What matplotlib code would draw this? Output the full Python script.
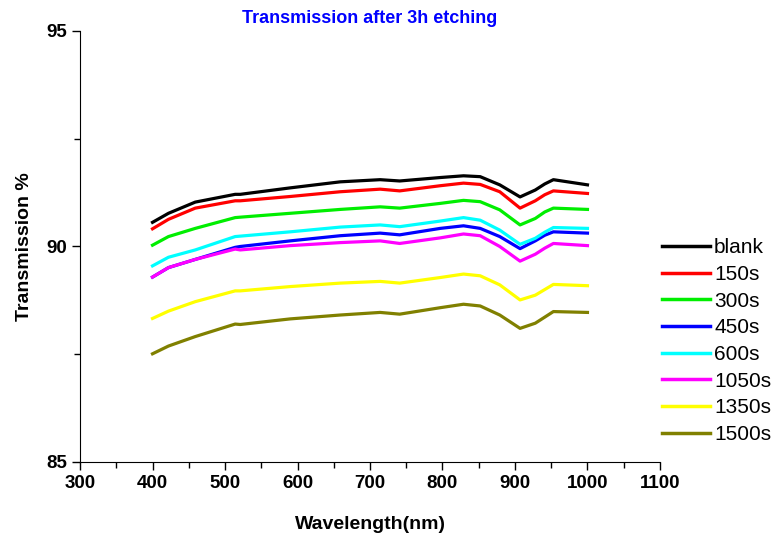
import matplotlib
matplotlib.use('Agg')
import matplotlib.pyplot as plt
from matplotlib.ticker import MultipleLocator

# wavelength (nm) and transmission (%)
wl = [400, 422, 459, 514, 521, 590, 659, 714, 741, 797, 829, 852, 879, 907, 928, 941, 953, 1000]

blank = [90.56, 90.77, 91.03, 91.21, 91.21, 91.36, 91.50, 91.55, 91.52, 91.60, 91.64, 91.62, 91.43, 91.15, 91.31, 91.45, 91.55, 91.43]
s150 = [90.41, 90.63, 90.89, 91.06, 91.06, 91.16, 91.27, 91.33, 91.29, 91.41, 91.47, 91.44, 91.27, 90.89, 91.06, 91.20, 91.29, 91.23]
s300 = [90.03, 90.23, 90.42, 90.67, 90.68, 90.77, 90.86, 90.92, 90.89, 91.00, 91.07, 91.04, 90.85, 90.50, 90.65, 90.80, 90.89, 90.86]
s450 = [89.29, 89.51, 89.70, 89.98, 90.00, 90.13, 90.25, 90.31, 90.27, 90.42, 90.48, 90.42, 90.23, 89.95, 90.13, 90.26, 90.34, 90.31]
s600 = [89.55, 89.75, 89.92, 90.23, 90.24, 90.34, 90.45, 90.50, 90.46, 90.59, 90.67, 90.61, 90.38, 90.05, 90.19, 90.33, 90.44, 90.42]
s1050 = [89.29, 89.51, 89.70, 89.94, 89.92, 90.02, 90.09, 90.13, 90.07, 90.20, 90.29, 90.25, 90.00, 89.66, 89.82, 89.96, 90.07, 90.02]
s1350 = [88.33, 88.50, 88.72, 88.97, 88.97, 89.07, 89.15, 89.19, 89.15, 89.28, 89.36, 89.32, 89.11, 88.76, 88.87, 89.00, 89.12, 89.09]
s1500 = [87.51, 87.69, 87.91, 88.20, 88.19, 88.32, 88.41, 88.47, 88.43, 88.58, 88.66, 88.62, 88.41, 88.10, 88.22, 88.36, 88.49, 88.47]

labels = ['blank', '150s', '300s', '450s', '600s', '1050s', '1350s', '1500s']
series = [blank, s150, s300, s450, s600, s1050, s1350, s1500]
colors = ['black', 'red', '#00ee00', 'blue', 'cyan', 'magenta', 'yellow', '#808000']

plt.rcParams['font.family'] = ['Liberation Sans', 'DejaVu Sans']

fig = plt.figure(figsize=(7.8, 5.37), dpi=100)
ax = fig.add_axes([0.1026, 0.1397, 0.7435, 0.8026])

for y, c, lab in zip(series, colors, labels):
    ax.plot(wl, y, color=c, lw=2.3, label=lab)

ax.set_xlim(300, 1100)
ax.set_ylim(85, 95)
ax.xaxis.set_major_locator(MultipleLocator(100))
ax.xaxis.set_minor_locator(MultipleLocator(50))
ax.yaxis.set_major_locator(MultipleLocator(5))
ax.yaxis.set_minor_locator(MultipleLocator(2.5))
ax.spines['top'].set_visible(False)
ax.spines['right'].set_visible(False)
ax.tick_params(which='major', length=6, width=1, labelsize=13.5)
ax.tick_params(which='minor', length=4, width=1)
for t in ax.get_xticklabels() + ax.get_yticklabels():
    t.set_fontweight('bold')

ax.set_xlabel('Wavelength(nm)', fontsize=14, fontweight='bold', labelpad=17)
ax.set_ylabel('Transmission %', fontsize=14, fontweight='bold', labelpad=9)
ax.set_title('Transmission after 3h etching', color='blue', fontsize=13,
             fontweight='bold', pad=6)

leg = ax.legend(loc='upper left', bbox_to_anchor=(0.838, 0.572),
                bbox_transform=fig.transFigure, frameon=False,
                prop={'size': 15},
                handlelength=2.3, handletextpad=0.2, labelspacing=0.37,
                borderaxespad=0)
for h in leg.get_lines():
    h.set_linewidth(2.5)

fig.savefig('out.png', dpi=100)
